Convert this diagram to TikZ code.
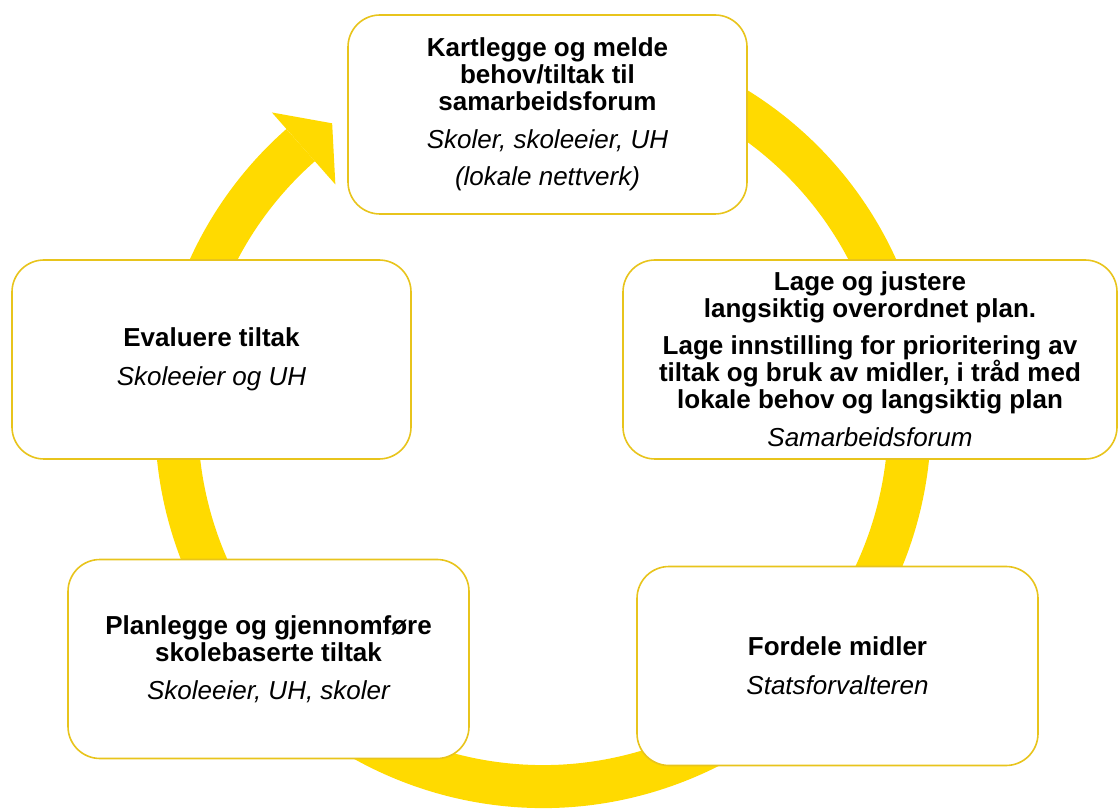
\documentclass[tikz,border=0pt]{standalone}
\usepackage{fontspec}
\setmainfont{Liberation Sans}
\usepackage{xcolor}
\usepackage{tikz}
\usetikzlibrary{positioning}

\definecolor{ringgul}{HTML}{FFDA00}
\definecolor{kantgul}{HTML}{E8C41C}
\newcommand{\hvem}[1]{{\mdseries\itshape #1}}

\begin{document}
\begin{tikzpicture}[x=1pt,y=1pt,
    stepbox/.style={draw=kantgul,line width=1.6pt,fill=white,rounded corners=32pt,
      minimum height=199pt,align=center,inner sep=4pt,
      font=\fontsize{26}{27}\selectfont\bfseries}]
  \useasboundingbox (0,0) rectangle (1118,809);
  \coordinate (hub) at (543,389);
  % sirkelpil bak boksene
  \begin{scope}[shift={(hub)}]
    \draw[ringgul,line width=43pt] (112:366.5) arc[start angle=112,end angle=-228.6,radius=366.5];
    \fill[ringgul] (131.4:410) -- (125.4:364) -- (131.4:314) -- cycle;
  \end{scope}
  % bokser
  \node[stepbox,minimum width=399pt] (kartlegge) at (547.5,694.5)
    {Kartlegge og melde\\behov/tiltak til\\samarbeidsforum\\[11pt]
     \hvem{Skoler, skoleeier, UH}\\[10pt]\hvem{(lokale nettverk)}};
  \node[stepbox,minimum width=494pt] (plan) at (870,449.5)
    {Lage og justere\\langsiktig overordnet plan.\\[10pt]
     Lage innstilling for prioritering av\\tiltak og bruk av midler, i tråd med\\lokale behov og langsiktig plan\\[11pt]
     \hvem{Samarbeidsforum}};
  \node[stepbox,minimum width=401pt] (fordele) at (837.5,143) {Fordele midler\\[12pt]\hvem{Statsforvalteren}};
  \node[stepbox,minimum width=401pt] (gjennomfore) at (268.5,150)
    {Planlegge og gjennomføre\\skolebaserte tiltak\\[11pt]\hvem{Skoleeier, UH, skoler}};
  \node[stepbox,minimum width=399pt] (evaluere) at (211.5,449.5) {Evaluere tiltak\\[12pt]\hvem{Skoleeier og UH}};
\end{tikzpicture}
\end{document}
